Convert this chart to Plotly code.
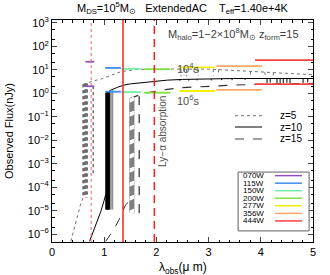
import numpy as np
import plotly.graph_objects as go

# ---------------- data ----------------
filt_names = ["070W", "115W", "150W", "200W", "277W", "356W", "444W"]
filt_lo = [0.64, 1.02, 1.33, 1.76, 2.44, 3.15, 3.89]
filt_hi = [0.81, 1.32, 1.70, 2.27, 3.12, 4.02, 5.00]
filt_f1e4 = [22.0, 12.0, 11.0, 10.6, 12.6, 14.3, 26.0]
filt_f1e6 = [2.0, 1.17, 1.12, 1.06, 1.25, 1.40, 2.45]
filt_colors = ["#9050c0", "#3c8cf0", "#70f0a0", "#80e040", "#f0f000", "#ffa868", "#ff4040"]

lya_x = [0.75, 1.36, 1.96]          # z=5, 10, 15
lya_dash = ["dot", "solid", "dash"]

# z=5 (dotted)
z5_tail_x = [0.36, 0.40, 0.46, 0.51, 0.55, 0.60]
z5_tail_log = [-6.3, -5.95, -5.4, -5.0, -4.7, -4.42]
z5_cont_x = [0.60, 0.70, 0.80, 0.94, 1.10, 1.32, 1.63, 2.00, 2.33, 3.00, 3.50, 4.00, 4.50, 5.00]
z5_cont_log = [0.38, 0.46, 0.53, 0.61, 0.74, 0.92, 1.02, 1.04, 1.03, 1.03, 0.96, 0.92, 0.85, 0.79]
z5_forest_x = [0.595, 0.605, 0.615, 0.625, 0.635, 0.645, 0.655, 0.665, 0.675, 0.79]
z5_forest_top = [0.38, 0.39, 0.40, 0.41, 0.42, 0.42, 0.42, 0.42, 0.42, 0.30]
z5_forest_bot = [-4.45, -4.45, -4.45, -4.45, -4.45, -4.45, -4.45, -4.45, -4.45, -3.5]
z5_dip_x = [2.47, 2.53, 2.58, 2.72, 2.80, 3.09, 3.19, 3.80, 4.08, 4.24]
z5_dip_top = [1.03, 1.03, 1.03, 1.03, 1.03, 1.03, 1.02, 0.93, 0.90, 0.88]
z5_dip_bot = [0.72, 0.75, 0.72, 0.78, 0.75, 0.75, 0.78, 0.80, 0.78, 0.76]

# z=10 (solid)
z10_tail_x = [0.72, 0.80, 0.87, 0.94, 1.00, 1.03]
z10_tail_log = [-6.3, -5.85, -5.48, -5.0, -4.55, -4.3]
z10_cont_x = [1.05, 1.13, 1.25, 1.38, 1.50, 1.76, 2.00, 2.21, 2.50, 2.84, 3.48, 4.12, 5.00]
z10_cont_log = [0.02, 0.14, 0.25, 0.35, 0.40, 0.47, 0.52, 0.56, 0.59, 0.61, 0.63, 0.63, 0.63]
z10_forest_x = [1.035, 1.045, 1.055, 1.065, 1.075, 1.085, 1.095]
z10_forest_top = [0.02, 0.03, 0.04, 0.05, 0.06, 0.07, 0.08]
z10_forest_bot = [-4.95, -4.95, -4.95, -4.95, -4.95, -4.95, -4.95]
z10_grey_x = [1.11, 1.13, 1.16]
z10_grey_top = [0.09, 0.11, 0.13]
z10_grey_bot = [-4.95, -4.95, -4.95]
z10_dip_x = [2.45, 2.62, 2.78, 3.05, 3.25, 3.45, 3.70, 4.12, 4.18, 4.31, 4.37, 4.43, 4.50, 4.56, 4.81, 4.90]
z10_dip_top = [0.59, 0.60, 0.60, 0.61, 0.62, 0.62, 0.63, 0.63, 0.63, 0.63, 0.63, 0.63, 0.63, 0.63, 0.63, 0.63]
z10_dip_bot = [0.53, 0.54, 0.55, 0.55, 0.56, 0.56, 0.57, 0.44, 0.46, 0.42, 0.44, 0.42, 0.45, 0.43, 0.44, 0.46]

# z=15 (dashed)
z15_tail_x = [1.03, 1.12, 1.19, 1.28, 1.36, 1.41, 1.48]
z15_tail_log = [-6.3, -6.0, -5.77, -5.4, -5.0, -4.75, -4.6]
z15_cont_x = [1.49, 1.57, 1.76, 2.00, 2.21, 2.50, 3.00, 3.50, 3.92, 4.50, 5.00]
z15_cont_log = [-0.22, -0.15, 0.00, 0.09, 0.17, 0.24, 0.31, 0.35, 0.38, 0.40, 0.42]
z15_forest_x = [1.495, 1.505, 1.515, 1.525, 1.535, 1.545, 1.555, 1.565]
z15_forest_top = [-0.22, -0.21, -0.20, -0.19, -0.18, -0.17, -0.16, -0.15]
z15_forest_bot = [-5.1, -5.1, -5.1, -5.1, -5.1, -5.1, -5.1, -5.1]
z15_edge_x = [1.67]
z15_edge_top = [-0.12]
z15_edge_bot = [-5.1]

y_ticks = [-6, -5, -4, -3, -2, -1, 0, 1, 2, 3]

# ---------------- figure ----------------
fig = go.Figure()


def seg_xy(xs, tops, bots):
    X, Y = [], []
    for x, t, b in zip(xs, tops, bots):
        X += [x, x, None]
        Y += [10 ** t, 10 ** b, None]
    return X, Y


def add_line(x, y, color, dash="solid", width=1.0):
    fig.add_trace(go.Scatter(x=x, y=y, mode="lines", showlegend=False, hoverinfo="skip",
                             line=dict(color=color, dash=dash, width=width)))


# z=5 dotted grey
add_line(z5_tail_x, [10 ** v for v in z5_tail_log], "#707070", "dot", 1)
add_line(z5_cont_x, [10 ** v for v in z5_cont_log], "#707070", "dot", 1)
X, Y = seg_xy(z5_forest_x, z5_forest_top, z5_forest_bot)
add_line(X, Y, "#707070", "dot", 1.5)
X, Y = seg_xy(z5_dip_x, z5_dip_top, z5_dip_bot)
add_line(X, Y, "#707070", "dot", 1)

# z=10 solid
add_line(z10_tail_x, [10 ** v for v in z10_tail_log], "#000000", "solid", 1)
add_line(z10_cont_x, [10 ** v for v in z10_cont_log], "#000000", "solid", 1)
X, Y = seg_xy(z10_grey_x, z10_grey_top, z10_grey_bot)
add_line(X, Y, "#909090", "solid", 1.5)
X, Y = seg_xy(z10_forest_x, z10_forest_top, z10_forest_bot)
add_line(X, Y, "#000000", "solid", 1.5)
X, Y = seg_xy(z10_dip_x, z10_dip_top, z10_dip_bot)
add_line(X, Y, "#000000", "solid", 1)

# z=15 dashed
add_line(z15_tail_x, [10 ** v for v in z15_tail_log], "#303030", "dash", 1)
add_line(z15_cont_x, [10 ** v for v in z15_cont_log], "#303030", "dash", 1.2)
X, Y = seg_xy(z15_forest_x, z15_forest_top, z15_forest_bot)
add_line(X, Y, "#808080", "solid", 1.5)
add_line(X, Y, "#ffffff", "4px,10px", 1)
X, Y = seg_xy(z15_edge_x, z15_edge_top, z15_edge_bot)
add_line(X, Y, "#000000", "dash", 1)

# filter sensitivity bars
for lo, hi, f4, f6, c in zip(filt_lo, filt_hi, filt_f1e4, filt_f1e6, filt_colors):
    add_line([lo, hi, None, lo, hi], [f4, f4, None, f6, f6], c, "solid", 1.8)

# Ly-alpha lines
for lx, d in zip(lya_x, lya_dash):
    fig.add_shape(type="line", xref="x", yref="paper", x0=lx, x1=lx, y0=0, y1=1,
                  line=dict(color="#ff2020" if d != "dot" else "#ff6060",
                            width=1.5 if d != "dot" else 1,
                            dash="8px,5px" if d == "dash" else d))

FONT = "Liberation Sans, Arial, sans-serif"

# legends (z)
z_leg_y = [0.569, 0.518, 0.464]
z_leg_lab = ["z=5", "z=10", "z=15"]
z_leg_style = [("dot", "#707070"), ("solid", "#000000"), ("dash", "#404040")]
for yy, lab, (d, c) in zip(z_leg_y, z_leg_lab, z_leg_style):
    fig.add_shape(type="line", xref="paper", yref="paper", x0=0.701, x1=0.805, y0=yy, y1=yy,
                  line=dict(color=c, dash=d, width=1))
    fig.add_annotation(xref="paper", yref="paper", x=0.866, y=yy, text=lab, showarrow=False,
                       xanchor="left", yanchor="middle", font=dict(size=10, color="black", family=FONT))

# legend (filters)
fig.add_shape(type="rect", xref="paper", yref="paper", x0=0.713, x1=0.985, y0=0.050, y1=0.315,
              line=dict(color="#606060", width=1), fillcolor="white")
f_leg_y = [0.299, 0.265, 0.231, 0.197, 0.163, 0.129, 0.095]
for yy, n, c in zip(f_leg_y, filt_names, filt_colors):
    fig.add_shape(type="line", xref="paper", yref="paper", x0=0.854, x1=0.958, y0=yy, y1=yy,
                  line=dict(color=c, width=1.5))
    fig.add_annotation(xref="paper", yref="paper", x=0.724, y=yy, text=n, showarrow=False,
                       xanchor="left", yanchor="middle", height=7, valign="middle",
                       font=dict(size=8, color="black", family=FONT))

# texts
fig.add_annotation(xref="paper", yref="paper", x=0.5, y=1.054,
                   text="M<sub>DS</sub>=10<sup>5</sup>M<sub>⊙</sub>   ExtendedAC    T<sub>eff</sub>=1.40e+4K",
                   showarrow=False, xanchor="center", yanchor="middle",
                   font=dict(size=11, color="black", family=FONT))
fig.add_annotation(xref="paper", yref="paper", x=0.695, y=0.937,
                   text="M<sub>halo</sub>=1−2×10<sup>8</sup>M<sub>⊙</sub> z<sub>form</sub>=15",
                   showarrow=False, xanchor="center", yanchor="middle",
                   font=dict(size=11, color="#404040", family=FONT))
fig.add_annotation(xref="paper", yref="paper", x=0.523, y=0.824, text="10<sup>4</sup>s",
                   showarrow=False, font=dict(size=11, color="#505050", family=FONT))
fig.add_annotation(xref="paper", yref="paper", x=0.523, y=0.640, text="10<sup>6</sup>s",
                   showarrow=False, font=dict(size=11, color="#505050", family=FONT))
fig.add_annotation(xref="paper", yref="paper", x=0.421, y=0.50, text="Ly−α absorption",
                   textangle=-90, showarrow=False,
                   font=dict(size=10, color="#505050", family=FONT))
# axis titles
fig.add_annotation(xref="paper", yref="paper", x=-0.165, y=0.5, text="Observed Flux(nJy)",
                   textangle=-90, showarrow=False, xanchor="center", yanchor="middle",
                   font=dict(size=11, color="black", family=FONT))
fig.add_annotation(xref="paper", yref="paper", x=0.5, y=-0.115, text="λ<sub>obs</sub>(μ m)",
                   showarrow=False, xanchor="center", yanchor="middle",
                   font=dict(size=12, color="black", family=FONT))

fig.update_layout(
    width=330, height=275,
    margin=dict(l=52, r=17, t=20, b=33, autoexpand=False),
    paper_bgcolor="white", plot_bgcolor="white",
    showlegend=False,
    font=dict(family=FONT, size=11, color="black"),
)
fig.update_xaxes(range=[0, 5], tickvals=[0, 1, 2, 3, 4, 5], ticks="inside", ticklen=5,
                 showline=True, linecolor="black", linewidth=1, mirror="allticks",
                 showgrid=False, zeroline=False, automargin=False,
                 minor=dict(ticks="inside", ticklen=2.5, dtick=0.2, tickcolor="black"),
                 tickfont=dict(size=11))
fig.update_yaxes(type="log", range=[-6.33, 3.12],
                 tickvals=[10 ** v for v in y_ticks],
                 ticktext=["10<sup>%s</sup>" % (str(v).replace("-", "−")) for v in y_ticks],
                 ticks="inside", ticklen=5,
                 showline=True, linecolor="black", linewidth=1, mirror="allticks",
                 showgrid=False, zeroline=False, automargin=False,
                 minor=dict(ticks="inside", ticklen=2.5, tickcolor="black"),
                 tickfont=dict(size=11))

fig.write_html("out.html", config={"displayModeBar": False},
               post_script="document.body.style.margin='0px';")
